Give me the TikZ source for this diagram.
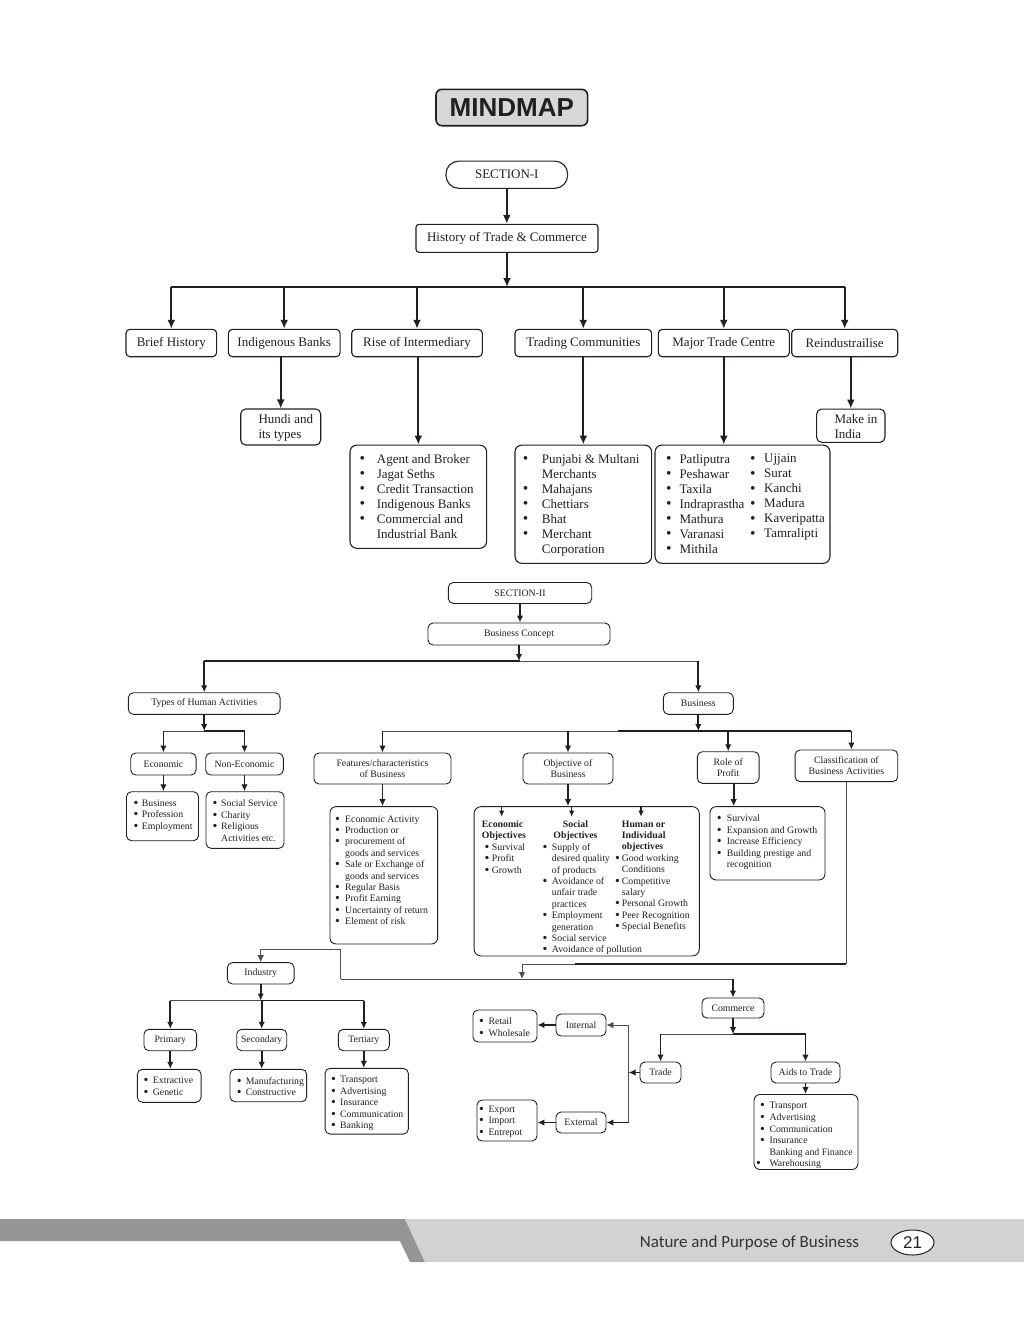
\documentclass[tikz,border=0pt]{standalone}
\usepackage{fontspec}
\usepackage{graphicx}
\setmainfont{Liberation Serif}
\newfontfamily\titlefont{Liberation Sans}
\newfontfamily\footfont{Carlito}
\usetikzlibrary{arrows.meta,calc,shapes.geometric}
\definecolor{ink}{RGB}{35,31,32}
\definecolor{dkg}{RGB}{149,149,151}
\definecolor{ltg}{RGB}{209,210,212}
\definecolor{ttlg}{RGB}{215,215,215}
\def\mybw{10pt}
\def\mybul{\textbullet}
\newcommand{\BL}[1]{\makebox[\mybw][l]{\mybul}#1}
\newcommand{\CL}[1]{\hspace*{\mybw}#1}
\tikzset{
 bxa/.style 2 args={draw=ink,line width=1.1pt,rounded corners=4pt,inner sep=0pt,text=ink,
   font=\fontsize{13}{15}\selectfont,align=center,minimum width=#1pt,minimum height=#2pt},
 bxb/.style 2 args={draw=ink,line width=0.9pt,rounded corners=5pt,inner sep=0pt,text=ink,
   font=\fontsize{9.8}{11.4}\selectfont,align=center,minimum width=#1pt,minimum height=#2pt},
 txa/.style={anchor=north west,inner sep=0pt,text=ink,align=left,font=\fontsize{13}{15}\selectfont},
 txb/.style={anchor=north west,inner sep=0pt,text=ink,align=left,font=\fontsize{9.8}{11.4}\selectfont},
 txc/.style={anchor=north west,inner sep=0pt,text=ink,align=left,font=\fontsize{9.8}{11.6}\selectfont},
 cna/.style={draw=ink,line width=2pt,-{Latex[length=9pt,width=8pt]}},
 lna/.style={draw=ink,line width=2pt},
 cnb/.style={draw=ink,line width=1.8pt,-{Latex[length=7pt,width=6.5pt]}},
 lnb/.style={draw=ink,line width=1.8pt},
 lnt/.style={draw=ink!80,line width=0.9pt},
 cnt/.style={draw=ink!80,line width=0.9pt,-{Latex[length=7pt,width=6.5pt]}},
}
\begin{document}
\begin{tikzpicture}[x=1pt,y=-1pt]
\fill[white] (0,0) rectangle (1024,1322);
\useasboundingbox (0,0) rectangle (1024,1322);

% ---------------- title ----------------
\node[bxa={151.7}{36.4},fill=ttlg,line width=1.6pt,rounded corners=6pt,
      font=\titlefont\bfseries\fontsize{26}{28}\selectfont] (title) at (511.8,107.5) {MINDMAP};

% ---------------- SECTION I ----------------
\node[bxa={121.7}{27.3},rounded corners=13pt] (s1) at (506.8,174.7) {SECTION-I};
\node[bxa={182}{28},rounded corners=3pt] (hist) at (507,238.3) {History of Trade \& Commerce};

\node[bxa={90.7}{27.4}] (brief) at (171.3,343) {Brief History};
\node[bxa={111.7}{27.4}] (indig) at (284.2,343) {Indigenous Banks};
\node[bxa={130.6}{27.4}] (rise) at (417,343) {Rise of Intermediary};
\node[bxa={136.7}{27.4}] (trading) at (583.3,343) {Trading Communities};
\node[bxa={131}{27.4}] (major) at (723.8,343) {Major Trade Centre};
\node[bxa={106}{27.4}] (reind) at (844.7,343) {Reindustrailise};

\node[bxa={80}{36},rounded corners=5pt] (hundi) at (280.7,427) {};
\node[txa] (hundit) at (258.3,414.1) {Hundi and\\its types};
\node[bxa={68.3}{33.3},rounded corners=5pt] (make) at (850.8,425.7) {};
\node[txa] (makat) at (834.3,414.1) {Make in\\India};

\def\mybul{\raisebox{-0.65pt}{\scalebox{1.2}{\textbullet}}}
\node[bxa={136.7}{103.3},rounded corners=7pt] (rlist) at (418.3,496.7) {};
\def\mybw{17.3pt}
\node[txa] (rlistt) at (359.4,454.1) {\BL{Agent and Broker}\\\BL{Jagat Seths}\\\BL{Credit Transaction}\\\BL{Indigenous Banks}\\\BL{Commercial and}\\\CL{Industrial Bank}};

\node[bxa={136.7}{118.3},rounded corners=7pt] (tlist) at (583.3,504.2) {};
\def\mybw{19pt}
\node[txa] (tlistt) at (522.7,454.1) {\BL{Punjabi \& Multani}\\\CL{Merchants}\\\BL{Mahajans}\\\BL{Chettiars}\\\BL{Bhat}\\\BL{Merchant}\\\CL{Corporation}};

\node[bxa={175}{118.3},rounded corners=7pt] (mlist) at (742.5,504.2) {};
\def\mybw{13.3pt}
\node[txa] (mlista) at (666,454.1) {\BL{Patliputra}\\\BL{Peshawar}\\\BL{Taxila}\\\BL{Indraprastha}\\\BL{Mathura}\\\BL{Varanasi}\\\BL{Mithila}};
\def\mybw{14pt}
\node[txa] (mlistb) at (750,454.1) {\BL{Ujjain}\\\BL{Surat}\\\BL{Kanchi}\\\BL{Madura}\\\BL{Kaveripatta}\\\BL{Tamralipti}};

% connectors section I
\coordinate (bus1) at (507,287);
\draw[cna] (s1.south) -- (s1.south |- hist.north);
\draw[cna] (hist.south) -- (hist.south |- bus1);
\draw[lna] (brief.north |- bus1) -- (reind.north |- bus1);
\foreach \n in {brief,indig,rise,trading,major,reind}
  \draw[cna] (\n.north |- bus1) -- (\n.north);
\draw[cna] (indig.south -| hundi.north) -- (hundi.north);
\draw[cna] (rise.south -| rlist.north) -- (rlist.north);
\draw[cna] (trading.south) -- (trading.south |- tlist.north);
\draw[cna] (major.south) -- (major.south |- mlist.north);
\draw[cna] (reind.south -| make.north) -- (make.north);

% ---------------- SECTION II ----------------
\def\mybul{\raisebox{-1pt}{\scalebox{1.4}{\textbullet}}}
\node[bxb={143.4}{21}] (s2) at (520,593) {SECTION-II};
\node[bxb={182}{22}] (bc) at (519,634) {Business Concept};
\node[bxb={151.7}{21.6}] (types) at (204.2,703.5) {Types of Human Activities};
\node[bxb={70}{21.6}] (busn) at (698.3,703.5) {Business};
\node[bxb={65.3}{22}] (econ) at (163.4,764) {Economic};
\node[bxb={77.6}{22}] (nonecon) at (244.5,764) {Non-Economic};
\node[bxb={137}{31}] (feat) at (382.5,768.5) {Features/characteristics\\of Business};
\node[bxb={90}{31}] (obj) at (568,768.5) {Objective of\\Business};
\node[bxb={61.7}{31.6}] (role) at (728.2,767.5) {Role of\\Profit};
\node[bxb={102.7}{31.7}] (class) at (846.4,765.8) {Classification of\\Business Activities};

\node[bxb={72}{49}] (elist) at (162.5,816.2) {};
\def\mybw{8.4pt}
\node[txb] (elistt) at (133.3,799.8) {\BL{Business}\\\BL{Profession}\\\BL{Employment}};
\node[bxb={78}{56.6}] (nlist) at (245,820) {};
\def\mybw{8.7pt}
\node[txb] (nlistt) at (212.3,799.8) {\BL{Social Service}\\\BL{Charity}\\\BL{Religious}\\\CL{Activities etc.}};

\node[bxb={107.7}{137.3},rounded corners=6pt] (flist) at (383.8,875.3) {};
\def\mybw{10pt}
\node[txb] (flistt) at (335,815.5) {\BL{Economic Activity}\\\BL{Production or}\\\BL{procurement of}\\\CL{goods and services}\\\BL{Sale or Exchange of}\\\CL{goods and services}\\\BL{Regular Basis}\\\BL{Profit Earning}\\\BL{Uncertainty of return}\\\BL{Element of risk}};

\node[bxb={225.3}{149.3},rounded corners=7pt] (obox) at (586.7,881.3) {};
\def\mybw{7.2pt}
\node[txb] (oc1) at (481.7,820.5) {\textbf{Economic}\\\textbf{Objectives}\\\hspace*{2.8pt}\BL{Survival}\\\hspace*{2.8pt}\BL{Profit}\\\hspace*{2.8pt}\BL{Growth}};
\def\mybw{9.4pt}
\node[txb] (oc2) at (542.3,820.5) {\makebox[66pt][c]{\textbf{Social}}\\\makebox[66pt][c]{\textbf{Objectives}}\\\BL{Supply of}\\\CL{desired quality}\\\CL{of products}\\\BL{Avoidance of}\\\CL{unfair trade}\\\CL{practices}\\\BL{Employment}\\\CL{generation}\\\BL{Social service}\\\BL{Avoidance of pollution}};
\def\mybw{6.7pt}
\node[txb] (oc3) at (615,820.5) {\CL{\textbf{Human or}}\\\CL{\textbf{Individual}}\\\CL{\textbf{objectives}}\\\BL{Good working}\\\CL{Conditions}\\\BL{Competitive}\\\CL{salary}\\\BL{Personal Growth}\\\BL{Peer Recognition}\\\BL{Special Benefits}};

\node[bxb={115}{73.3},rounded corners=6pt] (rolel) at (767.5,843.3) {};
\def\mybw{10pt}
\node[txb] (rolelt) at (716.6,814.8) {\BL{Survival}\\\BL{Expansion and Growth}\\\BL{Increase Efficiency}\\\BL{Building prestige and}\\\CL{recognition}};

% industry
\node[bxb={66.7}{21.3}] (ind) at (260.7,973.3) {Industry};
\node[bxb={52.7}{21.4}] (prim) at (170.3,1040) {Primary};
\node[bxb={50}{21.4}] (sec) at (261.7,1040) {Secondary};
\node[bxb={51}{21.4}] (tert) at (363.8,1040) {Tertiary};
\node[bxb={63.7}{33}] (plist) at (169.2,1085.8) {};
\def\mybw{9.4pt}
\node[txc] (plistt) at (143.3,1077.2) {\BL{Extractive}\\\BL{Genetic}};
\node[bxb={76.7}{32.4}] (slist) at (268.3,1085.5) {};
\def\mybw{9pt}
\node[txc] (slistt) at (236.6,1077.2) {\BL{Manufacturing}\\\BL{Constructive}};
\node[bxb={83.3}{65.7}] (tlst) at (366.7,1101.2) {};
\node[txc] (tlstt) at (331,1075.8) {\BL{Transport}\\\BL{Advertising}\\\BL{Insurance}\\\BL{Communication}\\\BL{Banking}};

% commerce
\node[bxb={62}{20}] (comm) at (733,1008) {Commerce};
\node[bxb={41}{21}] (trade) at (660.5,1072.5) {Trade};
\node[bxb={69}{21}] (aids) at (805.5,1072.5) {Aids to Trade};
\node[bxb={104}{75},rounded corners=6pt] (alist) at (806,1132) {};
\def\mybw{9.3pt}
\node[txc] (alistt) at (760,1102.2) {\BL{Transport}\\\BL{Advertising}\\\BL{Communication}\\\BL{Insurance}\\\CL{Banking and Finance}\\\makebox[\mybw][l]{\hspace*{-4pt}\mybul}Warehousing};
\node[bxb={50}{22}] (intl) at (581,1025) {Internal};
\node[bxb={50}{21}] (extl) at (581,1122.5) {External};
\node[bxb={64}{32}] (rtl) at (505,1026) {};
\node[txc] (rtlt) at (479,1017.5) {\BL{Retail}\\\BL{Wholesale}};
\node[bxb={60}{41}] (exl) at (507,1120.5) {};
\node[txc] (exlt) at (479,1105.5) {\BL{Export}\\\BL{Import}\\\BL{Entrepot}};

% connectors section II
\draw[cnb] (s2.south) -- (s2.south |- bc.north);
\coordinate (bus2) at (520,661);
\draw[cnb] (bc.south) -- (bc.south |- bus2);
\draw[lnb] (types.north |- bus2) -- (bus2);
\draw[lnt] (bus2) -- (busn.north |- bus2);
\draw[cnb] (types.north |- bus2) -- (types.north);
\draw[cnb] (busn.north |- bus2) -- (busn.north);

\coordinate (bus3) at (204.2,731);
\draw[cnb] (types.south) -- (bus3);
\draw[lnt] (econ.north |- bus3) -- (bus3);
\draw[lnb] (bus3) -- (nonecon.north |- bus3);
\draw[cnb] (econ.north |- bus3) -- (econ.north);
\draw[cnb] (nonecon.north |- bus3) -- (nonecon.north);
\draw[cnb] (econ.south) -- (econ.south |- elist.north);
\draw[cnb] (nonecon.south) -- (nonecon.south |- nlist.north);

\coordinate (bus4) at (698.3,731);
\coordinate (bus4m) at (618,731);
\draw[cnb] (busn.south) -- (bus4);
\draw[lnt] (feat.north |- bus4) -- (bus4m);
\draw[lnb] (bus4m) -- ([xshift=5pt]class.north |- bus4);
\foreach \n in {feat,obj,role}
  \draw[cnb] (\n.north |- bus4) -- (\n.north);
\draw[cnb] ([xshift=5pt]class.north |- bus4) -- ([xshift=5pt]class.north);
\draw[cnb] (feat.south) -- (feat.south |- flist.north);
\draw[cnb] (obj.south) -- (obj.south |- obox.north);
\draw[cnb] ([xshift=5.5pt]role.south) -- ([xshift=5.5pt]role.south |- rolel.north);
\coordinate (oa1) at (501.7,806.7);
\coordinate (oa2) at (571.7,806.7);
\coordinate (oa3) at (641,806.7);
\foreach \c in {oa1,oa2,oa3}
  \draw[draw=ink,line width=1.4pt,-{Latex[length=6pt,width=5.5pt]}] (\c) -- ++(0,10);

% classification -> industry / commerce
\coordinate (jn) at (522,964);
\coordinate (jm) at (575,964);
\coordinate (bus6) at (522,979);
\coordinate (ul) at (340.5,979);
\coordinate (ult) at (340.5,949);
\draw[lnt] (class.south) -- (class.south |- jn);
\draw[lnb] (class.south |- jn) -- (jm);
\draw[lnt] (jm) -- (jn);
\draw[cnt] (jn) -- (bus6);
\draw[lnt] (ul) -- (comm.north |- bus6);
\draw[cnb] (comm.north |- bus6) -- (comm.north);
\draw[cnt] (ul) -- (ult) -- (ind.north |- ult) -- (ind.north);

\coordinate (bus7) at (260.7,1000.5);
\draw[cnb] (ind.south) -- (bus7);
\draw[lnt] (prim.north |- bus7) -- (bus7);
\draw[lnb] (bus7) -- (tert.north |- bus7);
\foreach \n in {prim,sec,tert}
  \draw[cnb] (\n.north |- bus7) -- (\n.north);
\draw[cnb] (prim.south) -- (prim.south |- plist.north);
\draw[cnb] (sec.south) -- (sec.south |- slist.north);
\draw[cnb] (tert.south) -- (tert.south |- tlst.north);

\coordinate (bus8) at (733,1034);
\draw[cnb] (comm.south) -- (bus8);
\draw[lnt] (trade.north |- bus8) -- (bus8);
\draw[lnb] (bus8) -- (aids.north |- bus8);
\draw[cnb] (trade.north |- bus8) -- (trade.north);
\draw[cnb] (aids.north |- bus8) -- (aids.north);
\draw[cnb] (aids.south) -- (aids.south |- alist.north);
\coordinate (vx) at (628.5,1073);
\draw[cnb] (trade.west) -- (trade.west -| vx);
\draw[lnt] (vx |- intl.east) -- (vx |- extl.east);
\draw[cnt] (vx |- intl.east) -- (intl.east);
\draw[cnb] (vx |- extl.east) -- (extl.east);
\draw[cnb] (intl.west) -- (intl.west -| rtl.east);
\draw[cnb] (extl.west) -- (extl.west -| exl.east);

% ---------------- footer ----------------
\fill[dkg] (0,1219) -- (405,1219) -- (425,1262) -- (410,1262) -- (400,1241) -- (0,1241) -- cycle;
\fill[ltg] (405,1219) -- (1024,1219) -- (1024,1262) -- (425,1262) -- cycle;
\node[font=\footfont\fontsize{17}{20}\selectfont,text=black!80,inner sep=0pt] (foot) at (749.5,1243) {Nature and Purpose of Business};
\node[ellipse,draw=ink,fill=white,line width=1pt,minimum width=43pt,minimum height=25pt,inner sep=0pt,
      font=\titlefont\fontsize{17}{20}\selectfont,text=ink] (pg) at (912.5,1242.5) {21};
\end{tikzpicture}
\end{document}
